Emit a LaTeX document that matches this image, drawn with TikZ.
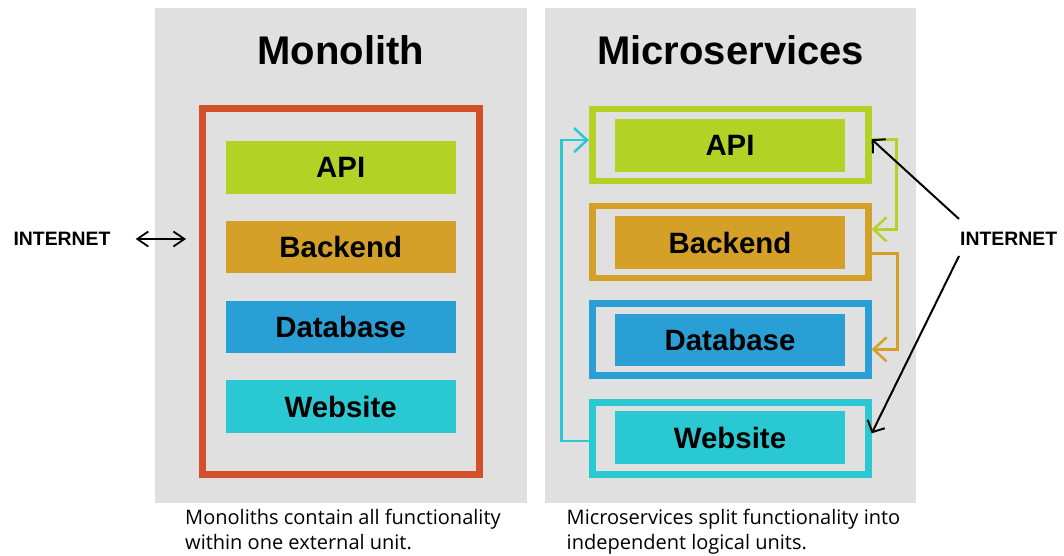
\documentclass[tikz,border=0pt]{standalone}
\usepackage{fontspec}
\setmainfont{Liberation Sans}
\newfontfamily\capfont{Open Sans}
\usetikzlibrary{arrows.meta,calc}

\definecolor{panelgray}{HTML}{E0E0E0}
\definecolor{monored}{HTML}{D4502A}
\definecolor{apigreen}{HTML}{B2D326}
\definecolor{backorange}{HTML}{D4A027}
\definecolor{dbblue}{HTML}{2A9FD6}
\definecolor{webcyan}{HTML}{29C8D2}

\tikzset{
  panel/.style={fill=panelgray, draw=none, minimum width=#1, minimum height=495pt, inner sep=0pt},
  title/.style={font=\bfseries\fontsize{40}{48}\selectfont, anchor=base, inner sep=0pt},
  unit/.style={fill=#1, draw=none, minimum width=230pt, minimum height=52.7pt, inner sep=0pt,
    font=\bfseries\fontsize{29.4}{34}\selectfont},
  svcframe/.style={draw=#1, line width=6.7pt, minimum width=276pt, minimum height=72pt, inner sep=0pt},
  monoframe/.style={draw=monored, line width=7pt, minimum width=276.5pt, minimum height=365.5pt, inner sep=0pt},
  netlabel/.style={font=\bfseries\fontsize{19.4}{24}\selectfont, inner sep=0pt, anchor=west},
  caption/.style={font=\capfont\fontsize{20}{25}\selectfont, anchor=north west, inner sep=0pt, align=left},
  flow/.style={draw=#1, line width=2.5pt, -{Straight Barb[length=13pt,width=24pt]}},
  netarrow/.style={draw=black, line width=2pt, -{Straight Barb[length=9pt,width=19pt]}},
  linkarrow/.style={draw=black, line width=1.8pt,
    {Straight Barb[length=11pt,width=15pt]}-{Straight Barb[length=11pt,width=15pt]}},
}

\begin{document}
\begin{tikzpicture}[x=1pt, y=-1pt]
\useasboundingbox (0,0) rectangle (1064,556);

% background panels
\node[panel=372pt] (monoPanel) at (341,255.5) {};
\node[panel=371pt] (microPanel) at (730.5,255.5) {};

% titles
\node[title] (monoTitle) at (340.8,65) {Monolith};
\node[title] (microTitle) at (730.7,65) {Microservices};

% monolith: one frame holding every unit
\node[monoframe] (mono) at (340.75,291.25) {};
\node[unit=apigreen]   (mApi)  at (340.7,167.3) {API};
\node[unit=backorange] (mBack) at (340.7,247)   {Backend};
\node[unit=dbblue]     (mDb)   at (340.7,327)   {Database};
\node[unit=webcyan]    (mWeb)  at (340.7,406.7) {Website};

% microservices: one frame per unit
\node[svcframe=apigreen]   (apiF)  at (730.3,145.1)  {};
\node[svcframe=backorange] (backF) at (730.3,241.85) {};
\node[svcframe=dbblue]     (dbF)   at (730.3,339.65) {};
\node[svcframe=webcyan]    (webF)  at (730.3,438.65) {};
\node[unit=apigreen]   (sApi)  at (730,145.3) {API};
\node[unit=backorange] (sBack) at (730,242.7) {Backend};
\node[unit=dbblue]     (sDb)   at (730,340)   {Database};
\node[unit=webcyan]    (sWeb)  at (730,437.7) {Website};

% internet labels
\node[netlabel] (inetL) at (13.3,239) {INTERNET};
\node[netlabel] (inetR) at (960,238.5) {INTERNET};

% monolith link to the internet
\draw[linkarrow] ([xshift=25pt]inetL.east) -- ($(inetL.east -| mono.west)+(-13,0)$);

% service-to-service calls
\draw[flow=webcyan] ([yshift=-2.3pt]webF.west) -- ++(-27.3,0) |- ([yshift=5pt]apiF.west);
\draw[flow=apigreen] ([yshift=5.8pt]apiF.east) -- ++(25,0) |- ([yshift=12.5pt]backF.east);
\draw[flow=backorange] ([yshift=-11.5pt]backF.east) -- ++(26,0) |- ([yshift=-9.7pt]dbF.east);

% internet traffic into the services
\coordinate (inetUp) at ([shift={(-1,-19.5)}]inetR.west);
\coordinate (inetDown) at ([shift={(-1,17.5)}]inetR.west);
\draw[netarrow] (inetUp) -- ([yshift=5.8pt]apiF.east);
\draw[netarrow] (inetDown) -- ([yshift=5.3pt]webF.east);

% captions
\node[caption] (monoCap) at (185,508.5) {Monoliths contain all functionality\\within one external unit.};
\node[caption] (microCap) at (566.5,508.5) {Microservices split functionality into\\independent logical units.};
\end{tikzpicture}
\end{document}
